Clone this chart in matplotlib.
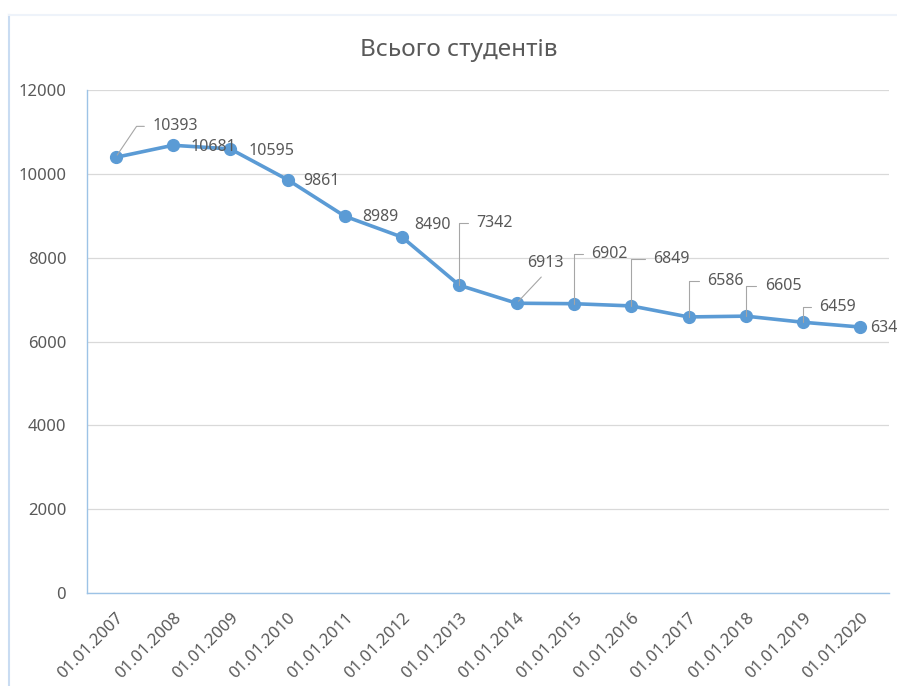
import matplotlib
matplotlib.use("Agg")
import matplotlib.pyplot as plt
from matplotlib.lines import Line2D

plt.rcParams['font.family'] = ['Noto Sans', 'DejaVu Sans']

# дані з графіка
dates = ['01.01.2007', '01.01.2008', '01.01.2009', '01.01.2010', '01.01.2011',
         '01.01.2012', '01.01.2013', '01.01.2014', '01.01.2015', '01.01.2016',
         '01.01.2017', '01.01.2018', '01.01.2019', '01.01.2020']
students = [10393, 10681, 10595, 9861, 8989, 8490, 7342, 6913, 6902, 6849,
            6586, 6605, 6459, 6345]
y_ticks = [0, 2000, 4000, 6000, 8000, 10000, 12000]

# зсуви підписів (пікселі) і тип виноски
label_offsets = [(37, 31), (18, -2), (18, -2), (16, -1), (17, -1), (12, 12),
                 (17, 62), (10, 40), (17, 50), (22, 47), (19, 36), (19, 30),
                 (16, 15), (10, -1)]
leader = ['diag', None, None, None, None, None,
          'angle', 'line', 'angle', 'angle', 'angle', 'angle', 'angle', None]

text_col = '#595959'
line_col = '#5B9BD5'

fig = plt.figure(figsize=(8.97, 6.86), dpi=100)
ax = fig.add_axes([87 / 897, 1 - 593 / 686, (889 - 87) / 897, (593 - 90) / 686])

x = list(range(len(dates)))
ax.plot(x, students, color=line_col, lw=2.6, marker='o', markersize=8.5,
        zorder=3, clip_on=False)

for i, v in enumerate(students):
    dx, dy = label_offsets[i]
    kw = {}
    if leader[i] == 'angle':
        kw['arrowprops'] = dict(arrowstyle='-', color='#A6A6A6', lw=0.8,
                                connectionstyle='angle,angleA=0,angleB=90,rad=0',
                                relpos=(0, 0.5), shrinkA=4, shrinkB=0)
    elif leader[i] == 'diag':
        kw['arrowprops'] = dict(arrowstyle='-', color='#A6A6A6', lw=0.8,
                                connectionstyle='angle,angleA=0,angleB=56,rad=0',
                                relpos=(0, 0.5), shrinkA=4, shrinkB=2)
    elif leader[i] == 'line':
        kw['arrowprops'] = dict(arrowstyle='-', color='#A6A6A6', lw=0.8,
                                relpos=(0.55, 0), shrinkA=3, shrinkB=2)
    ax.annotate(str(v), (i, v), xytext=(dx, dy), textcoords='offset pixels',
                ha='left', va='center', fontsize=11.5, color=text_col,
                annotation_clip=False, zorder=4, **kw)

ax.set_xlim(-0.5, len(dates) - 0.5)
ax.set_ylim(0, 12000)
ax.set_yticks(y_ticks)
ax.set_xticks(x)
ax.set_xticklabels(dates, rotation=45, ha='right', rotation_mode='anchor')
ax.tick_params(axis='both', length=0, colors=text_col, labelsize=12)
ax.tick_params(axis='y', pad=15)
ax.tick_params(axis='x', pad=12)

ax.grid(axis='y', color='#D9D9D9', lw=0.9)
ax.set_axisbelow(True)
for s in ['top', 'right']:
    ax.spines[s].set_visible(False)
for s in ['left', 'bottom']:
    ax.spines[s].set_color('#9DC3E6')
    ax.spines[s].set_linewidth(1.0)

fig.text(459 / 897, 1 - 50 / 686, 'Всього студентів', ha='center', va='center',
         fontsize=17.5, color=text_col)

# рамка області діаграми
fig.add_artist(Line2D([9 / 897, 9 / 897], [0, 1 - 15 / 686], color='#C9DCF2',
                      lw=1.5, transform=fig.transFigure))
fig.add_artist(Line2D([9 / 897, 1], [1 - 15 / 686, 1 - 15 / 686], color='#EEF3FA',
                      lw=1.5, transform=fig.transFigure))

fig.savefig('out.png', dpi=100)
